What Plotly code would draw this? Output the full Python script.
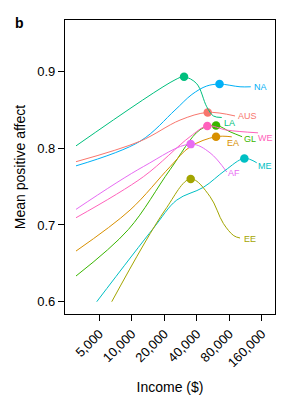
import math
import plotly.graph_objects as go

# ---- data ----
regions = ["NA", "AUS", "LA", "GL", "WE", "EA", "AF", "ME", "EE"]

income_NA = [3040, 11910, 25100, 36000, 49400, 64900, 100500, 126300]
affect_NA = [0.777, 0.809, 0.8496, 0.870, 0.881, 0.8835, 0.880, 0.880]

income_AUS = [3040, 11910, 27950, 50450, 90300]
affect_AUS = [0.7824, 0.809, 0.8366, 0.8466, 0.842]

income_LA = [3040, 25100, 30450, 39900, 49400, 56900, 68000]
affect_LA = [0.803, 0.889, 0.893, 0.884, 0.854, 0.842, 0.840]

income_GL = [3040, 9280, 22580, 42800, 60250, 81200, 105000]
affect_GL = [0.6335, 0.694, 0.772, 0.824, 0.8297, 0.8214, 0.815]

income_WE = [3040, 12780, 34600, 50000, 75700, 147500]
affect_WE = [0.7094, 0.7628, 0.815, 0.829, 0.8236, 0.820]

income_EA = [3040, 9625, 22580, 34600, 60250, 84200]
affect_EA = [0.666, 0.7194, 0.7758, 0.8018, 0.815, 0.8148]

income_AF = [3040, 12780, 35100, 53000, 75700]
affect_AF = [0.7203, 0.776, 0.8053, 0.794, 0.769]

income_ME = [4730, 15820, 26050, 46000, 73000, 110200, 143500]
affect_ME = [0.600, 0.6956, 0.7324, 0.749, 0.771, 0.7867, 0.781]

income_EE = [6514, 20300, 35100, 53000, 70400, 88000, 100500]
affect_EE = [0.600, 0.7194, 0.760, 0.737, 0.702, 0.686, 0.683]

tick_vals = [5000, 10000, 20000, 40000, 80000, 160000]
tick_text = ["5,000", "10,000", "20,000", "40,000", "80,000", "160,000"]
y_ticks = [0.6, 0.7, 0.8, 0.9]

series = {
    "NA": (income_NA, affect_NA),
    "AUS": (income_AUS, affect_AUS),
    "LA": (income_LA, affect_LA),
    "GL": (income_GL, affect_GL),
    "WE": (income_WE, affect_WE),
    "EA": (income_EA, affect_EA),
    "AF": (income_AF, affect_AF),
    "ME": (income_ME, affect_ME),
    "EE": (income_EE, affect_EE),
}

# ---- styles ----
colors = {
    "AUS": "#F8766D", "EA": "#D89000", "EE": "#A3A500", "GL": "#39B600",
    "LA": "#00BF7D", "ME": "#00BFC4", "NA": "#00B0F6", "AF": "#E76BF3",
    "WE": "#FF62BC",
}
label_shift = {  # (xshift, yshift) in px from the line end
    "NA": (2.5, 0), "AUS": (2, 0), "LA": (1.5, -5.5), "GL": (1, -2.6),
    "WE": (-1, -5.5), "EA": (-6, -6.6), "AF": (0.6, -0.6), "ME": (0, -3),
    "EE": (3.3, -0.6),
}
FONT = "Liberation Sans, Arial, sans-serif"

fig = go.Figure()
annotations = []
for r in regions:
    xs, ys = series[r]
    c = colors[r]
    fig.add_trace(go.Scatter(x=xs, y=ys, mode="lines",
                             line=dict(color=c, width=1, shape="spline", smoothing=1.0),
                             showlegend=False, hoverinfo="skip"))
    k = max(range(len(ys)), key=lambda i: ys[i])
    fig.add_trace(go.Scatter(x=[xs[k]], y=[ys[k]], mode="markers",
                             marker=dict(color=c, size=8.5),
                             showlegend=False, hoverinfo="skip"))
    dx, dy = label_shift[r]
    annotations.append(dict(x=math.log10(xs[-1]), y=ys[-1], xref="x", yref="y",
                            text=r, showarrow=False, xanchor="left", yanchor="middle",
                            xshift=dx, yshift=dy, borderpad=0,
                            font=dict(color=c, size=9, family=FONT)))

annotations.append(dict(x=-0.248, y=1.024, xref="paper", yref="paper", text="<b>b</b>",
                        showarrow=False, xanchor="left", yanchor="top",
                        font=dict(size=14, color="black", family=FONT)))

fig.update_layout(
    width=285, height=404,
    margin=dict(l=65, r=10, t=20, b=90),
    paper_bgcolor="white", plot_bgcolor="white",
    font=dict(family=FONT, color="black"),
    annotations=annotations,
)
fig.update_xaxes(type="log", range=[3.381, 5.326],
                 tickvals=tick_vals, ticktext=tick_text, tickangle=-45,
                 ticks="outside", ticklen=6, tickwidth=1, tickcolor="black",
                 showline=True, linecolor="black", linewidth=1.3, mirror=True,
                 showgrid=False, zeroline=False,
                 tickfont=dict(size=13, color="black"),
                 title=dict(text="Income ($)", font=dict(size=14), standoff=12))
fig.update_yaxes(range=[0.584, 0.967], tickvals=y_ticks, ticktext=["0.6", "0.7", "0.8", "0.9"],
                 ticks="outside", ticklen=6, tickwidth=1, tickcolor="black",
                 showline=True, linecolor="black", linewidth=1.3, mirror=True,
                 showgrid=False, zeroline=False,
                 tickfont=dict(size=13, color="black"),
                 title=dict(text="Mean positive affect", font=dict(size=14), standoff=8))

fig.write_html("out.html")
